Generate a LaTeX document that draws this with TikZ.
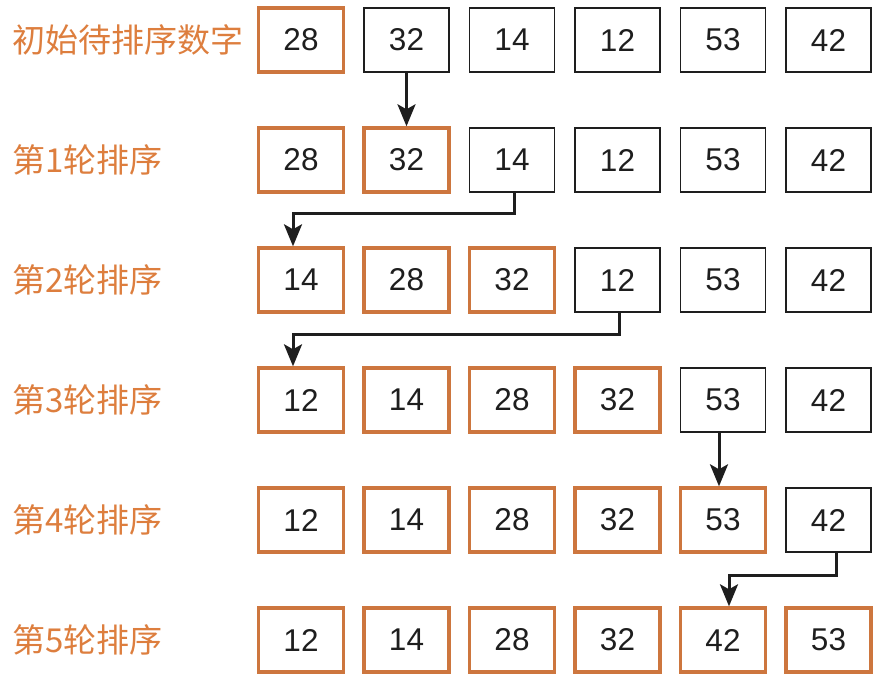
\documentclass[tikz,border=0pt]{standalone}
\usepackage{fontspec}
\setmainfont{Liberation Sans}
\newfontfamily\cjk{Noto Sans CJK SC}
\usetikzlibrary{arrows.meta}
\definecolor{boxorange}{RGB}{205,118,62}
\definecolor{textorange}{RGB}{221,126,62}
\definecolor{ink}{RGB}{30,30,30}

\begin{document}
\begin{tikzpicture}[x=1pt,y=-1pt,
  num/.style={draw=ink,line width=1.8pt,minimum width=85pt,minimum height=64pt,
    inner sep=0pt,font=\fontsize{31.5}{31.5}\selectfont,text=ink},
  done/.style={num,draw=boxorange,line width=3.4pt},
  row/.style={anchor=west,inner sep=0pt,font=\cjk\fontsize{33}{33}\selectfont,text=textorange},
  move/.style={draw=ink,line width=3pt,-{Stealth[length=22pt,width=18pt,inset=5pt]}}]
\useasboundingbox (0,0) rectangle (890,681);
\foreach \r/\lab/\k/\vals in {0/初始待排序数字/1/{28,32,14,12,53,42},
  1/第1轮排序/2/{28,32,14,12,53,42},
  2/第2轮排序/3/{14,28,32,12,53,42},
  3/第3轮排序/4/{12,14,28,32,53,42},
  4/第4轮排序/5/{12,14,28,32,53,42},
  5/第5轮排序/6/{12,14,28,32,42,53}}{
  \node[row] (lab\r) at (12,40+120*\r) {\lab};
  \foreach \v [count=\c] in \vals {
    \ifnum\c>\k
      \node[num] (r\r c\c) at (301+105.5*\c-105.5,40+120*\r) {\v};
    \else
      \node[done] (r\r c\c) at (301+105.5*\c-105.5,40+120*\r) {\v};
    \fi
  }
}
\draw[move] (r0c2.south) -- (r1c2.north);
\draw[move] ([xshift=2pt]r1c3.south) -- ++(0,21) -| ([xshift=-8pt]r2c1.north);
\draw[move] ([xshift=2pt]r2c4.south) -- ++(0,22) -| ([xshift=-8pt]r3c1.north);
\draw[move] ([xshift=-4pt]r3c5.south) -- ([xshift=-4pt]r4c5.north);
\draw[move] ([xshift=8pt]r4c6.south) -- ++(0,23) -| ([xshift=6pt]r5c5.north);
\end{tikzpicture}
\end{document}
